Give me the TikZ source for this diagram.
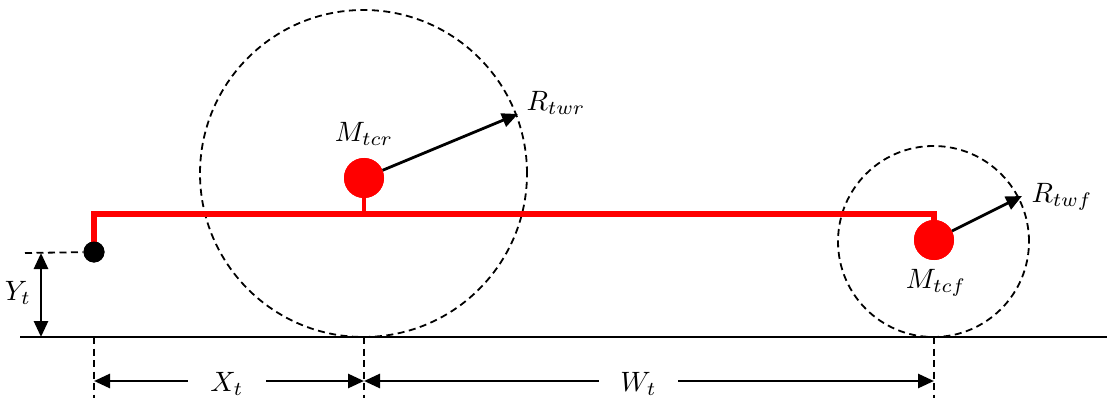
\documentclass[tikz,border=0pt]{standalone}
\usepackage{graphicx}
\usetikzlibrary{arrows.meta}
\newcommand{\biglbl}[1]{\scalebox{2.8}{$#1$}}
\begin{document}
\begin{tikzpicture}[x=1pt,y=-1pt,
  lbl/.style={inner sep=0pt},
  wheel/.style={circle, draw, line width=1.8pt, dash pattern=on 7pt off 4.5pt, inner sep=0pt},
  mass/.style={circle, fill=red, inner sep=0pt, minimum size=40pt},
  blackdot/.style={circle, fill=black, inner sep=0pt, minimum size=21pt},
  frame/.style={draw=red, line width=5.5pt},
  dim/.style={line width=2.8pt, -{Triangle[length=16pt,width=14pt]}},
  guide/.style={line width=1.8pt, dash pattern=on 7pt off 4.5pt},
  ground/.style={line width=2.2pt}]
\useasboundingbox (0,0) rectangle (1107,398);
% ground
\coordinate (gl) at (20,337);
\coordinate (gr) at (1107,337);
\draw[ground] (gl) -- (gr);
% wheels
\node[wheel, minimum size=327pt] (rw) at (363.5,173.5) {};
\node[wheel, minimum size=191pt] (fw) at (933.5,241.5) {};
% masses
\node[mass] (mr) at (364,178) {};
\node[mass] (mf) at (934,240) {};
\node[blackdot] (dot) at (94,252) {};
% frame
\coordinate (c1) at (94,214);
\coordinate (c2) at (934,214);
\coordinate (c3) at (364,214);
\draw[frame] (dot.center) -- (c1) -- (c2) -- (mf.center);
\draw[frame, line width=4.5pt] (c3) -- (mr.center);
\node[mass] at (mr) {};
\node[mass] at (mf) {};
\node[blackdot] at (dot) {};
% radius arrows
\coordinate (rt) at (518,114);
\coordinate (ft) at (1022,196);
\draw[dim] (mr) -- (rt);
\draw[dim] (mf) -- (ft);
% labels
\node[lbl] (lmr) at (364,134) {\biglbl{M_{tcr}}};
\node[lbl] (lmf) at (936,283) {\biglbl{M_{tcf}}};
\node[lbl] (lrr) at (556,103) {\biglbl{R_{twr}}};
\node[lbl] (lrf) at (1062,197) {\biglbl{R_{twf}}};
% Y_t
\coordinate (yl) at (25,253);
\coordinate (ytop) at (41,253);
\coordinate (ybot) at (41,337);
\draw[guide] (yl) -- (dot);
\draw[line width=2.8pt, {Triangle[length=16pt,width=14pt]}-{Triangle[length=16pt,width=14pt]}] (ytop) -- (ybot);
\node[lbl] (ly) at (18,293) {\biglbl{Y_t}};
% guides
\coordinate (g1t) at (94,337); \coordinate (g1b) at (94,398);
\coordinate (g2t) at (364,337); \coordinate (g2b) at (364,398);
\coordinate (g3t) at (934,337); \coordinate (g3b) at (934,398);
\draw[guide] (g1t) -- (g1b);
\draw[guide] (g2t) -- (g2b);
\draw[guide] (g3t) -- (g3b);
% dimension arrows
\coordinate (d1) at (94,381);
\coordinate (d2) at (364,381);
\coordinate (d3) at (934,381);
\node[lbl, minimum width=78pt] (lx) at (227,384) {\biglbl{X_t}};
\node[lbl, minimum width=79pt] (lw) at (638.5,384) {\biglbl{W_t}};
\draw[dim] (lx.west |- d1) -- (d1);
\draw[dim] (lx.east |- d1) -- (d2);
\draw[dim] (lw.west |- d1) -- (d2);
\draw[dim] (lw.east |- d1) -- (d3);
\end{tikzpicture}
\end{document}
